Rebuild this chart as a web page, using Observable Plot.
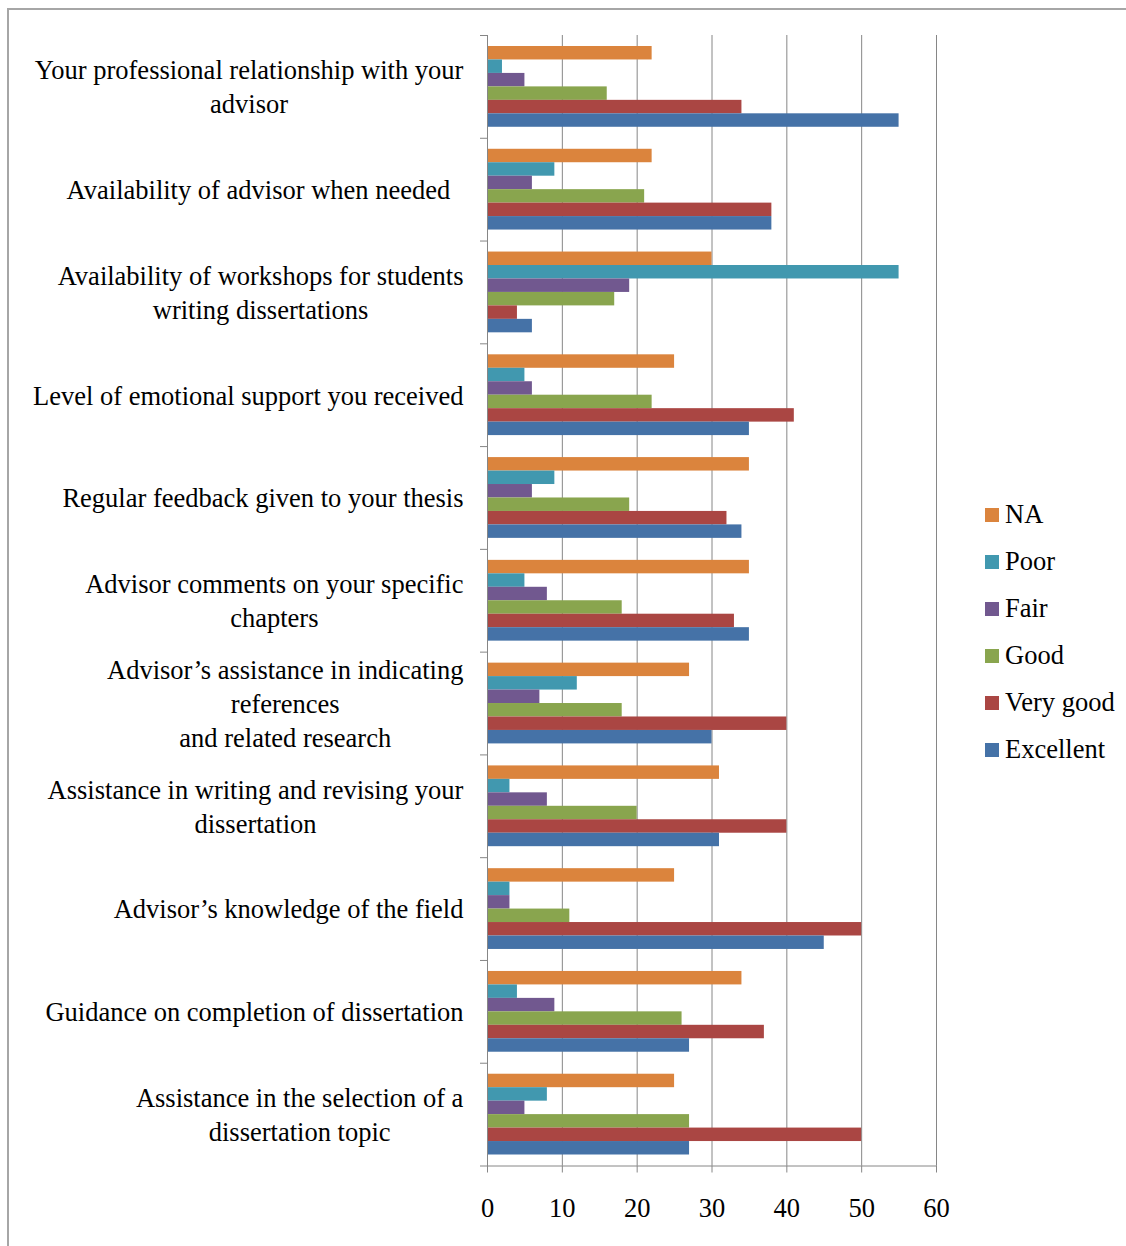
<!DOCTYPE html>
<html><head><meta charset="utf-8">
<script src="https://cdn.jsdelivr.net/npm/d3@7"></script>
<script src="https://cdn.jsdelivr.net/npm/@observablehq/plot@0.6"></script>
<style>
html,body{margin:0;padding:0;background:#fff;}
#wrap{position:relative;width:1126px;height:1246px;overflow:hidden;}
#border{position:absolute;left:7px;top:8px;width:1140px;height:1260px;border:2px solid #a6a6a6;box-sizing:border-box;}
#chart{position:absolute;left:0;top:0;}
#legend{position:absolute;left:985px;top:491px;font-family:"Liberation Serif",serif;font-size:26.5px;color:#000;}
.item{display:flex;align-items:center;height:47px;}
.sw{width:14px;height:14px;margin-right:6px;flex:none;}
</style></head>
<body>
<div id="wrap"><div id="border"></div><div id="chart"></div><div id="legend"></div></div>
<script>
const categories = [
  "Your professional relationship with your\nadvisor",
  "Availability of advisor when needed\u00a0\u00a0",
  "Availability of workshops for students\nwriting dissertations",
  "Level of emotional support you received",
  "Regular feedback given to your thesis",
  "Advisor comments on your specific\nchapters",
  "Advisor’s assistance in indicating\nreferences\nand related research",
  "Assistance in writing and revising your\ndissertation",
  "Advisor’s knowledge of the field",
  "Guidance on completion of dissertation",
  "Assistance in the selection of a\ndissertation topic"
];
const series = ["NA", "Poor", "Fair", "Good", "Very good", "Excellent"];
const colors = ["#DB843D", "#4198AF", "#71588F", "#89A54E", "#AA4643", "#4572A7"];
const naValues        = [22, 22, 30, 25, 35, 35, 27, 31, 25, 34, 25];
const poorValues      = [2, 9, 55, 5, 9, 5, 12, 3, 3, 4, 8];
const fairValues      = [5, 6, 19, 6, 6, 8, 7, 8, 3, 9, 5];
const goodValues      = [16, 21, 17, 22, 19, 18, 18, 20, 11, 26, 27];
const veryGoodValues  = [34, 38, 4, 41, 32, 33, 40, 40, 50, 37, 50];
const excellentValues = [55, 38, 6, 35, 34, 35, 30, 31, 45, 27, 27];
const xTicks = [0, 10, 20, 30, 40, 50, 60];

const valueLists = [naValues, poorValues, fairValues, goodValues, veryGoodValues, excellentValues];
const rows = [];
series.forEach((s, j) => categories.forEach((c, i) => rows.push({category: c, series: s, value: valueLists[j][i]})));

const W = 1126, H = 1246, mt = 35, mb = 80.5, ml = 487, mr = 190;
const band = (H - mt - mb) / categories.length;
const pad = 11;
const bh = (band - 2 * pad) / series.length;
const gray = "#868686";

const barMarks = series.map((s, j) => Plot.barX(rows.filter(r => r.series === s), {
  x: "value", y: "category", fill: colors[j],
  insetTop: pad + j * bh, insetBottom: band - pad - (j + 1) * bh
}));

const chart = Plot.plot({
  width: W, height: H,
  marginTop: mt, marginBottom: mb, marginLeft: ml, marginRight: mr,
  style: {fontFamily: "'Liberation Serif', serif", fontSize: "26.5px", color: "#000", background: "transparent"},
  x: {domain: [0, 60]},
  y: {domain: categories, padding: 0, round: false},
  marks: [
    Plot.gridX(xTicks.filter(d => d > 0), {stroke: gray, strokeOpacity: 1}),
    ...barMarks,
    Plot.frame({anchor: "left", stroke: gray}),
    Plot.frame({anchor: "bottom", stroke: gray, insetLeft: -7}),
    Plot.axisY({tickSize: 7, fill: "none", stroke: gray, dy: -band / 2, label: null}),
    Plot.axisY({tickSize: 0, tickPadding: 24, dy: -1.5, fontSize: 26.5, lineHeight: 1.28, label: null, fill: "#000"}),
    Plot.axisX(xTicks, {tickSize: 7, tickPadding: 25, stroke: gray, fill: "#000", fontSize: 26.5, label: null})
  ]
});
document.getElementById("chart").append(chart);

// center each multi-line label block, keeping its right edge next to the axis
chart.querySelectorAll('g[aria-label="y-axis tick label"] text').forEach(t => {
  const w = t.getBBox().width;
  t.setAttribute("text-anchor", "middle");
  const spans = t.querySelectorAll("tspan");
  if (spans.length) spans.forEach(s => s.setAttribute("x", -w / 2));
  else t.setAttribute("x", -w / 2);
});

const legend = document.getElementById("legend");
series.forEach((s, j) => {
  const item = document.createElement("div");
  item.className = "item";
  const sw = document.createElement("div");
  sw.className = "sw";
  sw.style.background = colors[j];
  const lab = document.createElement("span");
  lab.textContent = s;
  item.append(sw, lab);
  legend.append(item);
});
</script>
</body></html>
